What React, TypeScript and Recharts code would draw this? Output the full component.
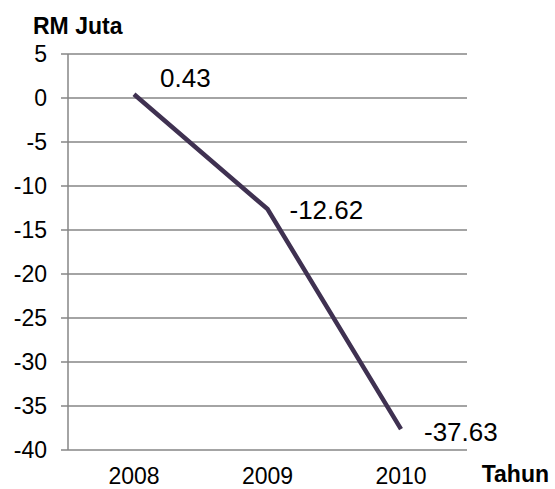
import { CartesianGrid, LabelList, Line, LineChart, XAxis, YAxis } from "recharts";

const years = ["2008", "2009", "2010"];
const values = [0.43, -12.62, -37.63];
const yTicks = [5, 0, -5, -10, -15, -20, -25, -30, -35, -40];

const data = years.map((year, i) => ({ year, value: values[i] }));

const FONT = "'Liberation Sans', Arial, sans-serif";
const GRID = "#868686";

// label offsets relative to each point
const labelOffsets = [
    { dx: 26, dy: -16 },
    { dx: 22, dy: 1 },
    { dx: 23, dy: 3 },
];

const PointLabel = (props: any) => {
    const { x, y, index, value } = props;
    const off = labelOffsets[index] ?? { dx: 0, dy: 0 };
    return (
        <text x={x + off.dx} y={y + off.dy} dy="0.35em" fontSize={26} fontFamily={FONT} fill="#000">
            {value.toFixed(2)}
        </text>
    );
};

export default function App() {
    return (
        <div style={{ position: "absolute", left: 0, top: 0, width: 555, height: 489, background: "#fff", fontFamily: FONT }}>
            <div style={{ position: "absolute", left: 33, top: 13, fontSize: 23, fontWeight: "bold", whiteSpace: "nowrap" }}>RM Juta</div>
            <div style={{ position: "absolute", right: 6, top: 461, fontSize: 23, fontWeight: "bold", whiteSpace: "nowrap" }}>Tahun</div>
            <LineChart width={555} height={489} data={data} margin={{ top: 54, right: 88, bottom: 0, left: 0 }}>
                <CartesianGrid vertical={false} stroke={GRID} strokeWidth={1.5} />
                <XAxis
                    dataKey="year"
                    height={39}
                    padding={{ left: 66, right: 66 }}
                    axisLine={false}
                    tickLine={false}
                    tick={{ fontSize: 23, fill: "#000", fontFamily: FONT }}
                    dy={10}
                />
                <YAxis
                    width={68}
                    domain={[-40, 5]}
                    ticks={yTicks}
                    interval={0}
                    tickSize={7}
                    axisLine={{ stroke: GRID, strokeWidth: 1.5 }}
                    tickLine={{ stroke: GRID, strokeWidth: 1.5 }}
                    tick={{ fontSize: 23, fill: "#000", fontFamily: FONT }}
                    tickMargin={14}
                />
                <Line
                    dataKey="value"
                    stroke="#3f3151"
                    strokeWidth={4.5}
                    dot={false}
                    isAnimationActive={false}
                >
                    <LabelList dataKey="value" content={PointLabel} />
                </Line>
            </LineChart>
        </div>
    );
}
